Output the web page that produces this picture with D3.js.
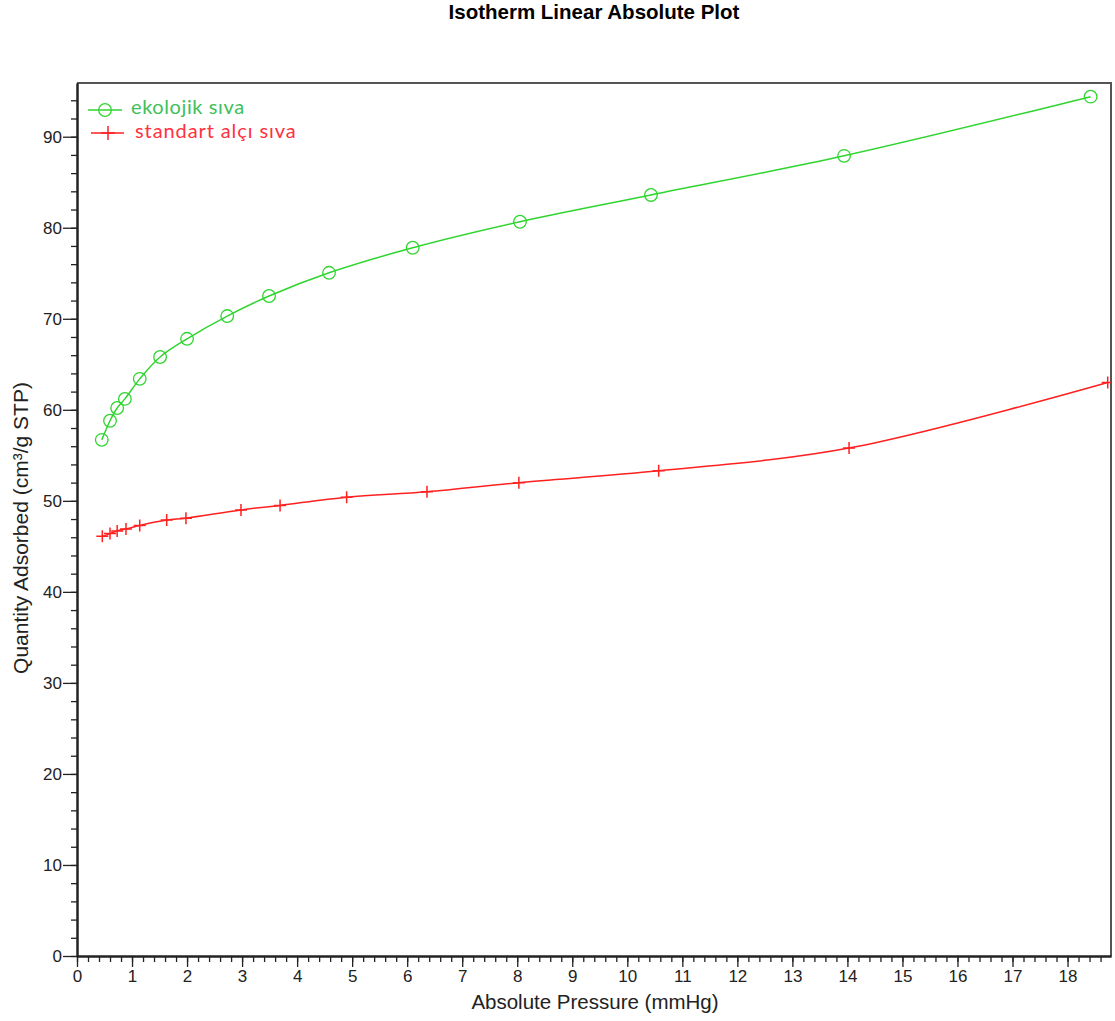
<!DOCTYPE html>
<html>
<head>
<meta charset="utf-8">
<script src="https://cdn.jsdelivr.net/npm/d3@7"></script>
<style>
  body { margin: 0; background: #fff; }
</style>
</head>
<body>
<svg id="chart" width="1115" height="1021"></svg>
<script>
// values
var ecoP = [0.45, 0.6, 0.73, 0.87, 1.14, 1.51, 2.0, 2.73, 3.49, 4.58, 6.1, 8.05, 10.43, 13.94, 18.42];
var ecoQ = [56.7, 58.8, 60.2, 61.2, 63.4, 65.8, 67.8, 70.3, 72.5, 75.05, 77.8, 80.66, 83.6, 87.9, 94.4];
var stdP = [0.46, 0.6, 0.73, 0.89, 1.14, 1.63, 1.98, 2.98, 3.69, 4.9, 6.36, 8.03, 10.57, 14.03, 18.73];
var stdQ = [46.1, 46.4, 46.7, 46.9, 47.3, 47.9, 48.1, 49.0, 49.5, 50.4, 51.0, 52.0, 53.3, 55.8, 63.0];
var xTicks = d3.range(0, 19, 1);
var yTicks = d3.range(0, 100, 10);
var seriesNames = ["ekolojik sıva", "standart alçı sıva"];

(function() {

var svg = d3.select("#chart");
var pLeft = 77, pRight = 1111, pTop = 83, pBottom = 956;
var arial = "'Liberation Sans', Arial, sans-serif";

var x = d3.scaleLinear().domain([0, 18.79]).range([pLeft, pRight]);
var y = d3.scaleLinear().domain([0, 95.9]).range([pBottom, pTop]);

var green = "#2fd52f", red = "#ff2020", axisCol = "#222";

// frame (top/right)
svg.append("path")
  .attr("d", "M" + pLeft + "," + pTop + "H" + pRight + "V" + pBottom)
  .attr("fill", "none").attr("stroke", "#555").attr("stroke-width", 2);

// y axis
var yAxis = svg.append("g").attr("transform", "translate(" + pLeft + ",0)");
yAxis.append("g").call(d3.axisLeft(y).tickValues(d3.range(0, 96, 2)).tickSize(6).tickSizeOuter(0).tickFormat(""));
yAxis.append("g").call(d3.axisLeft(y).tickValues(yTicks.filter(function(v) { return v <= 95; }))
  .tickSize(14).tickSizeOuter(0).tickPadding(1));
yAxis.selectAll(".domain").attr("stroke", axisCol).attr("stroke-width", 2);
yAxis.selectAll(".tick line").attr("stroke", axisCol).attr("stroke-width", 1.3);
yAxis.selectAll("text").attr("font-size", 17).attr("fill", "#222").attr("font-family", arial);

// x axis
var xAxis = svg.append("g").attr("transform", "translate(0," + pBottom + ")");
xAxis.append("g").call(d3.axisBottom(x).tickValues(d3.range(0, 18.8, 0.2)).tickSize(6).tickSizeOuter(0).tickFormat(""));
xAxis.append("g").call(d3.axisBottom(x).tickValues(xTicks).tickSize(11).tickSizeOuter(0).tickPadding(3));
xAxis.selectAll(".domain").attr("stroke", axisCol).attr("stroke-width", 2);
xAxis.selectAll(".tick line").attr("stroke", axisCol).attr("stroke-width", 1.3);
xAxis.selectAll("text").attr("font-size", 17).attr("fill", "#222").attr("font-family", arial);

// titles
svg.append("text").attr("x", 594).attr("y", 19).attr("text-anchor", "middle").attr("font-family", arial)
  .attr("font-size", 20.5).attr("font-weight", "bold").text("Isotherm Linear Absolute Plot");
svg.append("text").attr("x", 595).attr("y", 1009).attr("text-anchor", "middle").attr("font-family", arial)
  .attr("font-size", 20.5).attr("fill", "#222").text("Absolute Pressure (mmHg)");
svg.append("text").attr("transform", "translate(28,528) rotate(-90)").attr("text-anchor", "middle")
  .attr("font-family", arial).attr("font-size", 21).attr("fill", "#222").text("Quantity Adsorbed (cm³/g STP)");

var plot = svg.append("g");
plot.append("clipPath").attr("id", "clip").append("rect")
  .attr("x", pLeft).attr("y", pTop).attr("width", pRight - pLeft).attr("height", pBottom - pTop);
var inner = plot.append("g").attr("clip-path", "url(#clip)");

var line = d3.line().x(function(d) { return x(d[0]); }).y(function(d) { return y(d[1]); })
  .curve(d3.curveCatmullRom.alpha(0.5));

var eco = d3.zip(ecoP, ecoQ), std = d3.zip(stdP, stdQ);

inner.append("path").datum(eco).attr("d", line)
  .attr("fill", "none").attr("stroke", green).attr("stroke-width", 1.5);
inner.append("path").datum(std).attr("d", line)
  .attr("fill", "none").attr("stroke", red).attr("stroke-width", 1.5);

inner.selectAll(".eco").data(eco).enter().append("circle")
  .attr("cx", function(d) { return x(d[0]); }).attr("cy", function(d) { return y(d[1]); })
  .attr("r", 6.3).attr("fill", "none").attr("stroke", green).attr("stroke-width", 1.3);

function plus(g, cx, cy, s, col) {
  g.append("path").attr("d", "M" + (cx - s) + "," + cy + "H" + (cx + s) + "M" + cx + "," + (cy - s) + "V" + (cy + s))
    .attr("stroke", col).attr("stroke-width", 1.5).attr("fill", "none");
}
std.forEach(function(d) { plus(inner, x(d[0]), y(d[1]), 6, red); });

// legend
var lg = svg.append("g");
lg.append("line").attr("x1", 88).attr("x2", 122).attr("y1", 110).attr("y2", 110)
  .attr("stroke", green).attr("stroke-width", 1.5);
lg.append("circle").attr("cx", 105).attr("cy", 110).attr("r", 6.3)
  .attr("fill", "none").attr("stroke", green).attr("stroke-width", 1.3);
lg.append("text").attr("x", 131).attr("y", 114).attr("font-size", 20).attr("letter-spacing", 0.6)
  .attr("font-family", "Lato, 'Open Sans', sans-serif").attr("fill", "#3fbf5a").text(seriesNames[0]);
lg.append("line").attr("x1", 91).attr("x2", 124).attr("y1", 133).attr("y2", 133)
  .attr("stroke", red).attr("stroke-width", 1.5);
plus(lg, 108, 133, 7, red);
lg.append("text").attr("x", 135).attr("y", 138).attr("font-size", 20).attr("letter-spacing", 0.9)
  .attr("font-family", "Lato, 'Open Sans', sans-serif").attr("fill", "#ff3040").text(seriesNames[1]);

})();
</script>
</body>
</html>
